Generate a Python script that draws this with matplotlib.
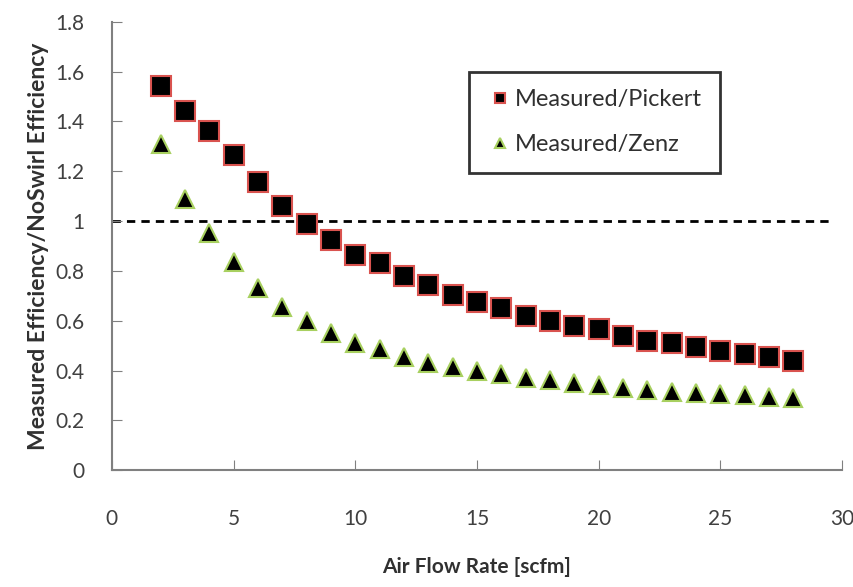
import matplotlib.pyplot as plt

# air flow rate [scfm]
flow = list(range(2, 29))

pickert = [1.54, 1.44, 1.36, 1.265, 1.155, 1.06, 0.99, 0.925, 0.865, 0.83,
           0.78, 0.745, 0.705, 0.675, 0.65, 0.62, 0.60, 0.58, 0.565, 0.54,
           0.52, 0.51, 0.495, 0.48, 0.465, 0.455, 0.44]
zenz = [1.31, 1.09, 0.95, 0.835, 0.73, 0.655, 0.60, 0.55, 0.51, 0.485,
        0.455, 0.43, 0.415, 0.40, 0.385, 0.37, 0.36, 0.35, 0.34, 0.33,
        0.32, 0.315, 0.31, 0.305, 0.30, 0.295, 0.29]

xticks = [0, 5, 10, 15, 20, 25, 30]
yticks = [0, 0.2, 0.4, 0.6, 0.8, 1, 1.2, 1.4, 1.6, 1.8]
ytick_labels = ['0', '0.2', '0.4', '0.6', '0.8', '1', '1.2', '1.4', '1.6', '1.8']

plt.rcParams['font.family'] = ['Lato', 'DejaVu Sans']

fig = plt.figure(figsize=(8.54, 5.87), dpi=100)
ax = fig.add_axes([0.131, 0.199, 0.855, 0.764])

ax.plot([0, 29.6], [1, 1], 'k--', lw=2, dashes=(3, 2.2), zorder=1)
ax.plot(flow, pickert, 's', color='black', mec='#d9534f', mew=1.5, ms=14,
        label='Measured/Pickert', zorder=3)
ax.plot(flow, zenz, '^', color='black', mec='#a8d060', mew=1.5, ms=12.5,
        label='Measured/Zenz', zorder=3)

ax.set_xlim(0, 30)
ax.set_ylim(0, 1.8)
ax.set_xticks(xticks)
ax.set_yticks(yticks)
ax.set_yticklabels(ytick_labels)
ax.tick_params(direction='in', length=7, color='#808080', labelsize=15,
               labelcolor='#404040')
ax.tick_params(axis='x', pad=28)
ax.tick_params(axis='y', pad=20)
for s in ['top', 'right']:
    ax.spines[s].set_visible(False)
for s in ['left', 'bottom']:
    ax.spines[s].set_color('#808080')
    ax.spines[s].set_linewidth(1.5)

ax.set_xlabel('Air Flow Rate [scfm]', fontsize=15, fontweight='bold',
              color='#303030', labelpad=20)
ax.set_ylabel('Measured Efficiency/NoSwirl Efficiency', fontsize=16.5,
              fontweight='bold', color='#303030', labelpad=4)

leg = ax.legend(loc='upper left', bbox_to_anchor=(0.473, 0.915), fontsize=17,
                markerscale=0.55, handletextpad=0.1, handlelength=1.1,
                labelspacing=1.0, borderpad=0.75, fancybox=False,
                labelcolor='#303030')
leg.get_frame().set_edgecolor('black')
leg.get_frame().set_linewidth(2)

fig.savefig('out.png', dpi=100)
